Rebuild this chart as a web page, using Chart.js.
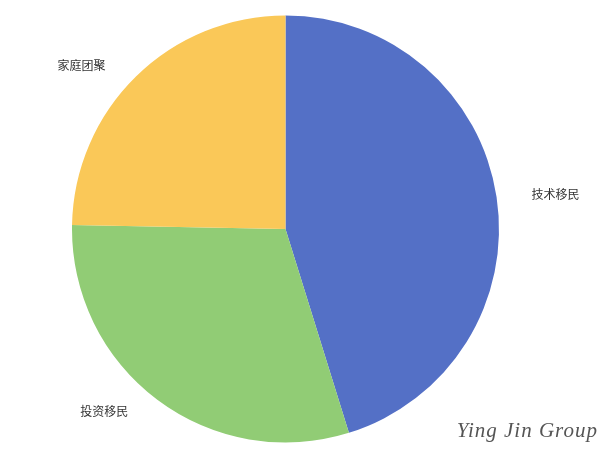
<!DOCTYPE html>
<html>
<head>
<meta charset="utf-8">
<script src="https://cdn.jsdelivr.net/npm/chart.js@4/dist/chart.umd.min.js"></script>
<style>
  html, body { margin: 0; padding: 0; background: #fff; }
  #wrap { position: relative; width: 609px; height: 462px; }
</style>
</head>
<body>
<div id="wrap"><canvas id="pie"></canvas></div>
<script>
// 数据
const categories = ["技术移民", "投资移民", "家庭团聚"];
const shares = [45.2, 30.1, 24.7];
const colors = ["#5470c6", "#91cc75", "#fac858"];

// 外侧标签 + 水印
const outsideLabels = {
  id: "outsideLabels",
  afterDatasetsDraw(chart) {
    const ctx = chart.ctx;
    const meta = chart.getDatasetMeta(0);
    ctx.save();
    ctx.font = "12px 'Noto Sans CJK SC', sans-serif";
    ctx.fillStyle = "#333";
    ctx.textBaseline = "middle";
    meta.data.forEach(function (arc, i) {
      const mid = (arc.startAngle + arc.endAngle) / 2;
      const r = arc.outerRadius + 15;
      const right = Math.cos(mid) >= 0;
      const x = arc.x + Math.cos(mid) * r + (right ? 20 : -20);
      const y = arc.y + Math.sin(mid) * r;
      ctx.textAlign = right ? "left" : "right";
      ctx.fillText(categories[i], x, y);
    });
    // 水印
    ctx.font = "italic 21px 'Liberation Serif', serif";
    ctx.fillStyle = "#555";
    ctx.textAlign = "right";
    ctx.letterSpacing = "1px";
    ctx.fillText("Ying Jin Group", 598, 431);
    ctx.restore();
  },
};

new Chart(document.querySelector("#pie"), {
  type: "pie",
  data: {
    labels: categories,
    datasets: [
      {
        data: shares,
        backgroundColor: colors,
        borderWidth: 0,
      },
    ],
  },
  options: {
    responsive: true,
    maintainAspectRatio: false,
    animation: false,
    layout: {
      padding: { left: 72, right: 110, top: 15, bottom: 19 },
    },
    plugins: {
      legend: { display: false },
      tooltip: { enabled: false },
    },
  },
  plugins: [outsideLabels],
});
</script>
</body>
</html>
